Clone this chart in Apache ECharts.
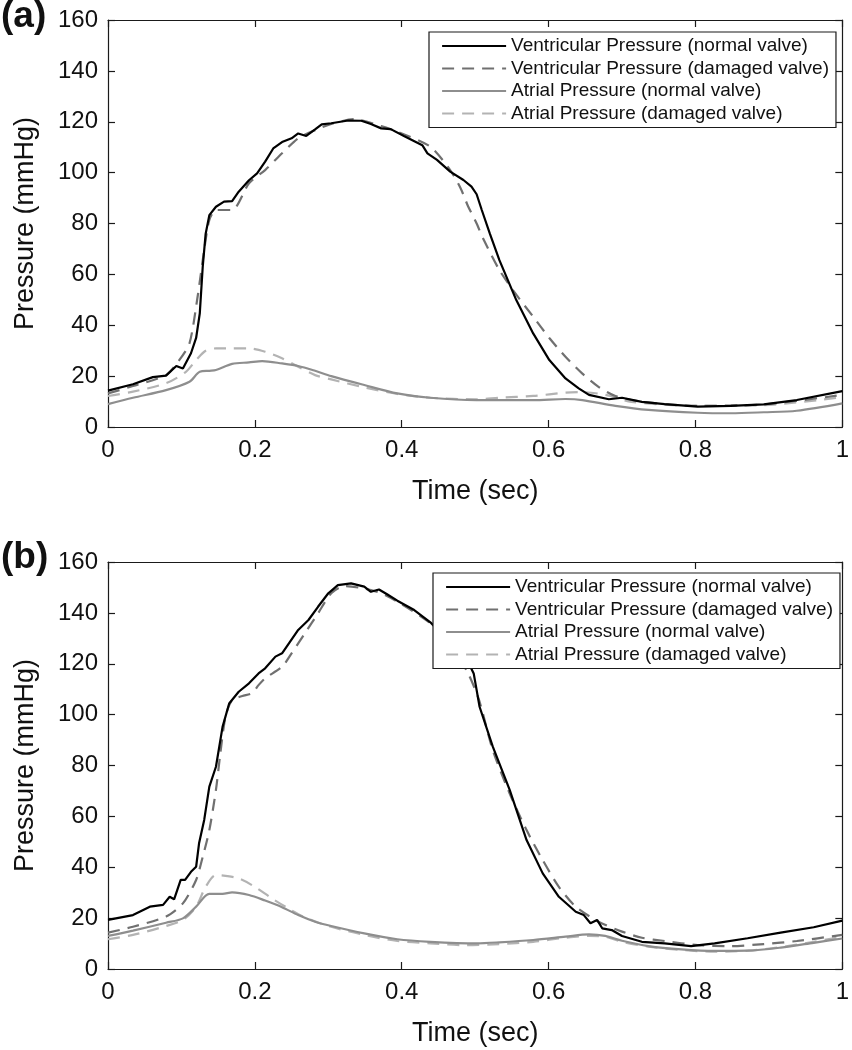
<!DOCTYPE html>
<html>
<head>
<meta charset="utf-8">
<script src="https://cdn.jsdelivr.net/npm/echarts@6/dist/echarts.min.js"></script>
<style>
  html, body { margin: 0; padding: 0; background: #fff; }
  #chart { width: 852px; height: 1050px; }
</style>
</head>
<body>
<div id="chart"></div>
<script>
// ---- Data (time in sec, pressure in mmHg) ----
const seriesNames = [
  'Ventricular Pressure (normal valve)',
  'Ventricular Pressure (damaged valve)',
  'Atrial Pressure (normal valve)',
  'Atrial Pressure (damaged valve)'
];
const panelLabels = ['(a)', '(b)'];
const xTicks = [0, 0.2, 0.4, 0.6, 0.8, 1];
const yTicks = [0, 20, 40, 60, 80, 100, 120, 140, 160];

// Panel (a)
const aVentNormal = [[0,14.3],[0.034,16.8],[0.061,19.6],[0.079,20.2],[0.093,24],[0.102,23],[0.113,29],[0.12,35],[0.125,44.7],[0.129,63],[0.133,76],[0.138,83.3],[0.147,86.6],[0.158,88.6],[0.169,88.8],[0.178,92.5],[0.192,97],[0.203,99.7],[0.214,104.3],[0.225,109.5],[0.237,112],[0.25,113.5],[0.259,115.4],[0.27,114.4],[0.282,117],[0.291,119],[0.304,119.4],[0.327,120.5],[0.345,120.4],[0.358,119.1],[0.372,117.4],[0.385,117.1],[0.403,114.4],[0.428,110.8],[0.435,107.6],[0.448,105],[0.466,100.4],[0.484,97.1],[0.495,94.5],[0.502,91.5],[0.509,85.3],[0.52,76],[0.533,65.6],[0.556,49.9],[0.579,36.8],[0.601,26.3],[0.623,19.1],[0.641,15.2],[0.655,12.6],[0.682,10.9],[0.7,11.5],[0.727,9.9],[0.758,9],[0.803,8],[0.848,8.3],[0.893,8.9],[0.938,10.6],[1,14.1]];
const aVentDamaged = [[0,13.2],[0.034,16.1],[0.079,20.4],[0.097,26.3],[0.111,32.9],[0.122,51.2],[0.131,69.6],[0.138,81.4],[0.147,85.3],[0.169,85.3],[0.192,95.8],[0.214,101],[0.237,107.6],[0.259,113.5],[0.282,116.7],[0.304,119.1],[0.335,121],[0.372,118.3],[0.394,116.1],[0.439,110.2],[0.466,101],[0.48,94],[0.49,87],[0.502,80],[0.511,74],[0.533,61.7],[0.556,52],[0.579,43.4],[0.601,35],[0.623,27.6],[0.646,21],[0.668,15.8],[0.691,12.2],[0.727,9.9],[0.803,8.3],[0.893,8.9],[1,12.6]];
const aAtrNormal = [[0,9],[0.034,11.5],[0.079,14.5],[0.111,17.8],[0.125,21.7],[0.138,22.1],[0.147,22.4],[0.169,24.8],[0.192,25.4],[0.21,25.9],[0.237,25],[0.259,24],[0.282,22.1],[0.304,20],[0.349,16.5],[0.394,13.2],[0.439,11.5],[0.502,10.6],[0.533,10.6],[0.579,10.6],[0.623,11],[0.646,10.6],[0.691,8.3],[0.736,6.7],[0.803,5.6],[0.848,5.4],[0.893,5.8],[0.938,6.4],[1,9.3]];
const aAtrDamaged = [[0,12.2],[0.034,13.9],[0.079,17.2],[0.106,21.7],[0.12,26.3],[0.133,30],[0.147,30.9],[0.169,30.9],[0.192,30.9],[0.214,29.6],[0.237,27],[0.259,23.7],[0.282,20.4],[0.304,18.7],[0.349,15.6],[0.394,13],[0.439,11.5],[0.502,10.9],[0.533,11.5],[0.579,12.2],[0.623,13.5],[0.646,13.7],[0.678,12.6],[0.713,9.9],[0.803,8.3],[0.893,8.6],[1,11.7]];

// Panel (b)
const bVentNormal = [[0,19.3],[0.034,21.2],[0.057,24.5],[0.075,25.2],[0.084,28.4],[0.09,27.4],[0.099,35],[0.105,35],[0.113,38.2],[0.12,40.2],[0.124,49.4],[0.131,58.6],[0.138,71.7],[0.147,79.5],[0.156,95.2],[0.165,104.4],[0.178,109],[0.192,112.3],[0.205,116.2],[0.214,118.2],[0.228,122.8],[0.237,124.1],[0.248,128.7],[0.259,133.3],[0.273,137.2],[0.286,142.4],[0.3,147.7],[0.313,150.9],[0.331,151.6],[0.349,150.3],[0.358,148.3],[0.369,149.2],[0.38,147.3],[0.394,144.8],[0.417,141.1],[0.439,136.3],[0.466,128],[0.489,121.5],[0.498,116.2],[0.506,103.1],[0.524,87.4],[0.547,70.4],[0.57,50.7],[0.592,37.6],[0.614,28.4],[0.637,22.5],[0.648,21.2],[0.657,18],[0.666,19.3],[0.673,16],[0.686,15.3],[0.7,13],[0.727,10.7],[0.758,10.1],[0.794,9],[0.826,10.1],[0.871,12.1],[0.916,14.3],[0.961,16.4],[1,19]];
const bVentDamaged = [[0,14.3],[0.034,16.6],[0.079,20.6],[0.102,25.8],[0.12,35],[0.129,44.1],[0.138,54.6],[0.147,70.4],[0.153,84.8],[0.16,99.2],[0.169,105.7],[0.183,107.3],[0.196,108.4],[0.205,111.6],[0.214,114.3],[0.237,118.8],[0.25,124.1],[0.268,131.9],[0.286,139.8],[0.304,147.7],[0.322,150.5],[0.349,149.6],[0.372,147.7],[0.394,144.4],[0.439,135.9],[0.466,127],[0.489,117],[0.505,106],[0.524,86],[0.547,69],[0.57,54.6],[0.592,42.8],[0.614,32.3],[0.637,24.5],[0.668,18.6],[0.7,14.7],[0.727,12.3],[0.758,11],[0.803,9.4],[0.848,9],[0.893,9.8],[0.938,11],[1,13.4]];
const bAtrNormal = [[0,13],[0.034,15.1],[0.079,18.2],[0.102,19.9],[0.12,24.5],[0.138,29.5],[0.156,29.5],[0.169,30.1],[0.192,29.1],[0.214,26.9],[0.237,24.3],[0.259,21.2],[0.282,18.6],[0.304,16.9],[0.349,14],[0.394,11.7],[0.439,10.7],[0.502,10.1],[0.533,10.5],[0.579,11.4],[0.623,12.7],[0.655,13.6],[0.677,13],[0.7,11.1],[0.736,9],[0.781,7.7],[0.826,7.1],[0.871,7.2],[0.916,8.4],[0.961,10.3],[1,12]];
const bAtrDamaged = [[0,11.7],[0.034,13.4],[0.079,16.9],[0.102,19.3],[0.12,24.5],[0.133,32.3],[0.147,36.9],[0.16,36.6],[0.178,35.6],[0.2,32.3],[0.223,27.8],[0.245,23.9],[0.268,20.3],[0.304,16.6],[0.349,13.4],[0.394,11],[0.439,10.1],[0.484,9.4],[0.533,9.8],[0.579,10.7],[0.623,12.3],[0.655,13],[0.677,12.7],[0.7,10.7],[0.736,8.8],[0.781,7.5],[0.826,6.8],[0.871,7.2],[0.916,8.6],[0.961,10.7],[1,12.7]];

const panels = [
  [aVentNormal, aVentDamaged, aAtrNormal, aAtrDamaged],
  [bVentNormal, bVentDamaged, bAtrNormal, bAtrDamaged]
];

// ---- Styles ----
const FONT = '"Liberation Sans", Arial, Helvetica, sans-serif';
const lineStyles = [
  { color: '#000000', width: 2.2, type: 'solid' },
  { color: '#707070', width: 2.2, type: [12, 8] },
  { color: '#8e8e8e', width: 2.2, type: 'solid' },
  { color: '#b3b3b3', width: 2.2, type: [12, 8] }
];
const smoothing = [0, 0.25, 0.3, 0.3];
const gridTops = [20, 562];
const legendPos = [{ left: 429, top: 32 }, { left: 433, top: 573 }];
const labelTops = [-2, 539];

const chart = echarts.init(document.getElementById('chart'), null, { renderer: 'canvas' });

function axLine() { return { show: true, onZero: false, lineStyle: { color: '#1a1a1a', width: 1.2 } }; }
function axTick() { return { show: true, inside: true, length: 7, lineStyle: { color: '#1a1a1a', width: 1.2 } }; }
const grids = [], xAxes = [], yAxes = [], series = [], legends = [], graphics = [];

panels.forEach((panel, p) => {
  grids.push({ left: 108, top: gridTops[p], width: 741, height: 407, containLabel: false });
  xAxes.push({
    type: 'value', gridIndex: p, position: 'bottom', min: 0, max: 1, interval: 0.2,
    axisLine: axLine(), splitLine: { show: false }, axisTick: axTick(),
    axisLabel: { show: true, margin: 11, fontSize: 24, color: '#111', fontFamily: FONT,
      formatter: v => { const t = xTicks.find(k => Math.abs(k - v) < 1e-9); return t === undefined ? '' : String(t); } },
    name: 'Time (sec)', nameLocation: 'middle', nameGap: 51,
    nameTextStyle: { fontSize: 27, color: '#111', fontFamily: FONT }
  });
  xAxes.push({
    type: 'value', gridIndex: p, position: 'top', min: 0, max: 1, interval: 0.2,
    axisLine: axLine(), splitLine: { show: false }, axisLabel: { show: false }, axisTick: axTick()
  });
  yAxes.push({
    type: 'value', gridIndex: p, position: 'left', min: 0, max: 160, interval: 20,
    axisLine: axLine(), splitLine: { show: false }, axisTick: axTick(),
    axisLabel: { show: true, margin: 10, fontSize: 24, color: '#111', fontFamily: FONT,
      formatter: v => { const t = yTicks.find(k => Math.abs(k - v) < 1e-9); return t === undefined ? '' : String(t); } },
    name: 'Pressure (mmHg)', nameLocation: 'middle', nameGap: 69, nameRotate: 90,
    nameTextStyle: { fontSize: 27, color: '#111', fontFamily: FONT }
  });
  yAxes.push({
    type: 'value', gridIndex: p, position: 'right', min: 0, max: 160, interval: 20,
    axisLine: axLine(), splitLine: { show: false }, axisLabel: { show: false }, axisTick: axTick()
  });

  panel.forEach((data, s) => {
    series.push({
      name: seriesNames[s], type: 'line', data: data,
      xAxisIndex: p * 2, yAxisIndex: p * 2,
      symbol: 'none', showSymbol: false,
      smooth: smoothing[s],
      lineStyle: Object.assign({}, lineStyles[s]),
      itemStyle: { color: lineStyles[s].color },
      z: 10 - s, animation: false
    });
  });

  legends.push({
    show: true, orient: 'vertical', left: legendPos[p].left, top: legendPos[p].top,
    data: seriesNames.map(n => ({ name: n })),
    backgroundColor: '#ffffff', borderColor: '#1a1a1a', borderWidth: 1.2, borderRadius: 0,
    padding: [4, 7, 4, 12], itemGap: 2.5, itemWidth: 64, itemHeight: 14,
    selectedMode: false,
    itemStyle: { opacity: 0, borderWidth: 0 },
    lineStyle: { width: 2.2 },
    textStyle: { fontSize: 19, color: '#111', fontFamily: FONT, lineHeight: 20 },
    z: 20
  });

  graphics.push({
    type: 'text', left: 1, top: labelTops[p], z: 30,
    style: { text: panelLabels[p], font: 'bold 37px ' + FONT, fill: '#111' }
  });
});

chart.setOption({
  animation: false,
  backgroundColor: '#ffffff',
  grid: grids, xAxis: xAxes, yAxis: yAxes,
  legend: legends, series: series, graphic: graphics
});
</script>
</body>
</html>
